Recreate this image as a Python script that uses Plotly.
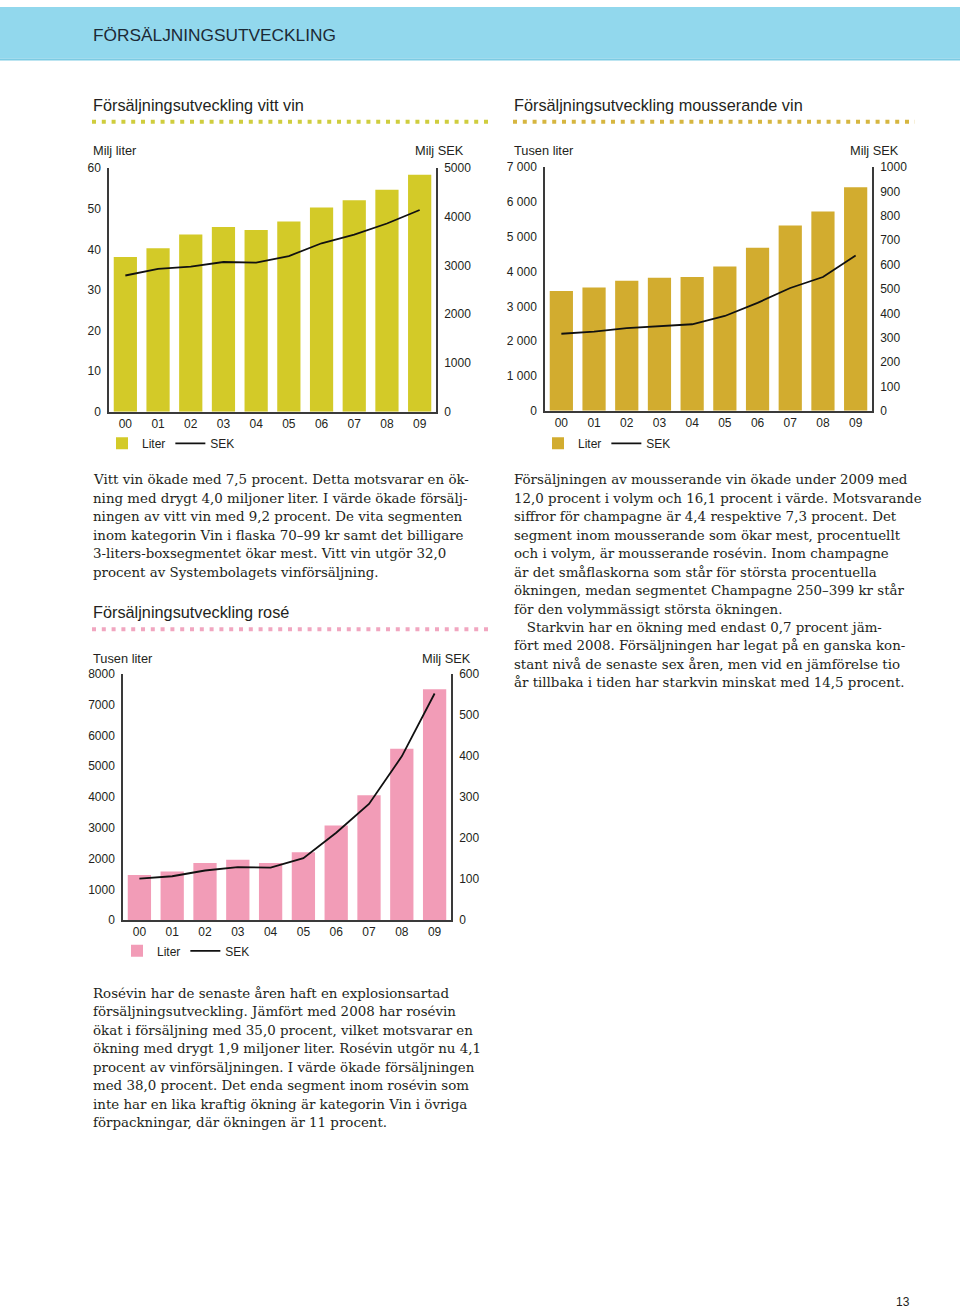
import plotly.graph_objects as go

W, H = 960, 1316

years = ["00", "01", "02", "03", "04", "05", "06", "07", "08", "09"]

# Vitt vin
vitt_liter = [38.1, 40.3, 43.7, 45.5, 44.8, 46.9, 50.3, 52.1, 54.7, 58.4]   # Milj liter
vitt_sek = [2797, 2932, 2980, 3074, 3061, 3196, 3459, 3635, 3865, 4142]     # Milj SEK

# Mousserande vin
mouss_liter = [3444, 3539, 3738, 3823, 3842, 4146, 4687, 5323, 5731, 6423]  # Tusen liter
mouss_sek = [316, 325, 339, 348, 355, 389, 443, 504, 549, 638]              # Milj SEK

# Rosé
rose_liter = [1471, 1579, 1858, 1966, 1858, 2202, 3072, 4060, 5564, 7497]   # Tusen liter
rose_sek = [101, 107, 121, 129, 128, 151, 213, 283, 399, 552]               # Milj SEK

vitt_left_ticks = [0, 10, 20, 30, 40, 50, 60]
vitt_right_ticks = [0, 1000, 2000, 3000, 4000, 5000]
mouss_left_ticks = [0, 1000, 2000, 3000, 4000, 5000, 6000, 7000]
mouss_left_text = ["0", "1 000", "2 000", "3 000", "4 000", "5 000", "6 000", "7 000"]
mouss_right_ticks = [0, 100, 200, 300, 400, 500, 600, 700, 800, 900, 1000]
rose_left_ticks = [0, 1000, 2000, 3000, 4000, 5000, 6000, 7000, 8000]
rose_right_ticks = [0, 100, 200, 300, 400, 500, 600]

C_VITT = "#d3ca28"
C_MOUSS = "#d2ac2f"
C_ROSE = "#f29cb7"
C_TEXT = "#231f20"
AX = "#3a3a3a"
SANS = "Liberation Sans, Arial, sans-serif"
SERIF = "DejaVu Serif, serif"


def xp(px):
    return px / W


def yp(py):
    return 1 - py / H


fig = go.Figure()

charts = [
    dict(liter=vitt_liter, sek=vitt_sek, color=C_VITT, xd=(109, 436), yd=(163, 409),
         yr=(0, 60), y2r=(0, 5000), lt=vitt_left_ticks, ltt=[str(v) for v in vitt_left_ticks],
         rt=vitt_right_ticks, legend_xy=(102, 441)),
    dict(liter=mouss_liter, sek=mouss_sek, color=C_MOUSS, xd=(545, 872), yd=(162, 408),
         yr=(0, 7000), y2r=(0, 1000), lt=mouss_left_ticks, ltt=mouss_left_text,
         rt=mouss_right_ticks, legend_xy=(538, 441)),
    dict(liter=rose_liter, sek=rose_sek, color=C_ROSE, xd=(123, 451), yd=(674, 923),
         yr=(0, 8000), y2r=(0, 600), lt=rose_left_ticks, ltt=[str(v) for v in rose_left_ticks],
         rt=rose_right_ticks, legend_xy=(117, 954)),
]

layout_axes = {}
for i, c in enumerate(charts):
    xa = "x" if i == 0 else f"x{i+1}"
    ya1 = f"y{2*i+1}" if i > 0 else "y"
    ya2 = f"y{2*i+2}"
    leg = "legend" if i == 0 else f"legend{i+1}"
    fig.add_trace(go.Bar(x=years, y=c["liter"], name="Liter", marker_color=c["color"],
                         marker_line_width=0, xaxis=xa, yaxis=ya1, legend=leg))
    fig.add_trace(go.Scatter(x=years, y=c["sek"], name="SEK", mode="lines",
                             line=dict(color="#111111", width=1.8), xaxis=xa, yaxis=ya2,
                             legend=leg))
    xkey = "xaxis" if i == 0 else f"xaxis{i+1}"
    y1key = "yaxis" if i == 0 else f"yaxis{2*i+1}"
    y2key = f"yaxis{2*i+2}"
    layout_axes[xkey] = dict(domain=[xp(c["xd"][0]), xp(c["xd"][1])], anchor=ya1,
                             showline=True, linecolor=AX, linewidth=1.5, ticks="",
                             showgrid=False, zeroline=False, range=[-0.5, 9.5],
                             tickfont=dict(family=SANS, size=12, color=C_TEXT))
    layout_axes[y1key] = dict(domain=[yp(c["yd"][1]), yp(c["yd"][0])], anchor=xa,
                              range=list(c["yr"]), showline=True, linecolor=AX, linewidth=1.5,
                              showgrid=False, zeroline=False, ticks="",
                              tickvals=c["lt"], ticktext=c["ltt"], ticklabelstandoff=4,
                              tickfont=dict(family=SANS, size=12, color=C_TEXT))
    layout_axes[y2key] = dict(overlaying=ya1, side="right", anchor=xa,
                              range=list(c["y2r"]), showline=True, linecolor=AX, linewidth=1.5,
                              showgrid=False, zeroline=False, ticks="",
                              tickvals=c["rt"], ticklabelstandoff=4,
                              tickfont=dict(family=SANS, size=12, color=C_TEXT))
    layout_axes[leg] = dict(orientation="h", x=xp(c["legend_xy"][0]), y=yp(c["legend_xy"][1]),
                            xanchor="left", yanchor="middle", bgcolor="rgba(0,0,0,0)",
                            font=dict(family=SANS, size=12, color=C_TEXT),
                            itemclick=False, itemdoubleclick=False)

shapes = []
annotations = []

# header band
shapes.append(dict(type="rect", xref="paper", yref="paper", x0=0, x1=1, y0=yp(52), y1=1,
                   fillcolor="#92d8ed", line_width=0, layer="below"))
shapes.append(dict(type="line", xref="paper", yref="paper", x0=0, x1=1, y0=yp(53), y1=yp(53),
                   line=dict(color="#7ccbe3", width=2)))
annotations.append(dict(text="FÖRSÄLJNINGSUTVECKLING", x=xp(91), y=yp(28), xref="paper", yref="paper",
                        xanchor="left", yanchor="middle", showarrow=False,
                        font=dict(family=SANS, size=17.3, color="#1c2a36")))

# section titles with dotted rules
sections = [
    ("Försäljningsutveckling vitt vin", 91, 99, 116, 493, "#cfcd3e"),
    ("Försäljningsutveckling mousserande vin", 512, 99, 116, 915, "#d6b640"),
    ("Försäljningsutveckling rosé", 91, 612, 629, 493, "#f1a6c0"),
]
for title, x0, ty, dy, x1, col in sections:
    annotations.append(dict(text=title, x=xp(x0), y=yp(ty), xref="paper", yref="paper",
                            xanchor="left", yanchor="middle", showarrow=False,
                            font=dict(family=SANS, size=16.3, color=C_TEXT)))
    shapes.append(dict(type="line", xref="paper", yref="paper", x0=xp(x0 + 1), x1=xp(x1),
                       y0=yp(dy), y1=yp(dy), line=dict(color=col, width=4, dash="4px,5.8px")))

# axis unit labels
units = [
    ("Milj liter", 91, 145, "left"), ("Milj SEK", 466, 145, "right"),
    ("Tusen liter", 512, 145, "left"), ("Milj SEK", 901, 145, "right"),
    ("Tusen liter", 91, 658, "left"), ("Milj SEK", 473, 658, "right"),
]
for t, x, y, anc in units:
    annotations.append(dict(text=t, x=xp(x), y=yp(y), xref="paper", yref="paper",
                            xanchor=anc, yanchor="middle", showarrow=False,
                            font=dict(family=SANS, size=12.8, color=C_TEXT)))

# body text
para1 = [
    "Vitt vin ökade med 7,5 procent. Detta motsvarar en ök-",
    "ning med drygt 4,0 miljoner liter. I värde ökade försälj-",
    "ningen av vitt vin med 9,2 procent. De vita segmenten",
    "inom kategorin Vin i flaska 70–99 kr samt det billigare",
    "3-liters-boxsegmentet ökar mest. Vitt vin utgör 32,0",
    "procent av Systembolagets vinförsäljning.",
]
para2 = [
    "Försäljningen av mousserande vin ökade under 2009 med",
    "12,0 procent i volym och 16,1 procent i värde. Motsvarande",
    "siffror för champagne är 4,4 respektive 7,3 procent. Det",
    "segment inom mousserande som ökar mest, procentuellt",
    "och i volym, är mousserande rosévin. Inom champagne",
    "är det småflaskorna som står för största procentuella",
    "ökningen, medan segmentet Champagne 250–399 kr står",
    "för den volymmässigt största ökningen.",
    "   Starkvin har en ökning med endast 0,7 procent jäm-",
    "fört med 2008. Försäljningen har legat på en ganska kon-",
    "stant nivå de senaste sex åren, men vid en jämförelse tio",
    "år tillbaka i tiden har starkvin minskat med 14,5 procent.",
]
para3 = [
    "Rosévin har de senaste åren haft en explosionsartad",
    "försäljningsutveckling. Jämfört med 2008 har rosévin",
    "ökat i försäljning med 35,0 procent, vilket motsvarar en",
    "ökning med drygt 1,9 miljoner liter. Rosévin utgör nu 4,1",
    "procent av vinförsäljningen. I värde ökade försäljningen",
    "med 38,0 procent. Det enda segment inom rosévin som",
    "inte har en lika kraftig ökning är kategorin Vin i övriga",
    "förpackningar, där ökningen är 11 procent.",
]
for lines, x0, y0 in [(para1, 91, 478), (para2, 512, 478), (para3, 91, 997)]:
    for k, line in enumerate(lines):
        annotations.append(dict(text=line, x=xp(x0), y=yp(y0 + k * 18.65), xref="paper", yref="paper",
                                xanchor="left", yanchor="middle", showarrow=False,
                                font=dict(family=SERIF, size=13.4, color=C_TEXT)))

annotations.append(dict(text="13", x=xp(912), y=yp(1309), xref="paper", yref="paper",
                        xanchor="right", yanchor="middle", showarrow=False,
                        font=dict(family=SANS, size=12, color=C_TEXT)))

fig.update_layout(width=W, height=H, margin=dict(l=0, r=0, t=0, b=0),
                  paper_bgcolor="white", plot_bgcolor="rgba(0,0,0,0)",
                  bargap=0.29, showlegend=True, shapes=shapes, annotations=annotations,
                  **layout_axes)

fig.write_html("out.html", config={"displayModeBar": False},
               post_script="document.documentElement.style.margin='0';"
                           "document.body.style.margin='0';document.body.style.padding='0';"
                           "document.documentElement.style.overflow='hidden';"
                           "var d=document.getElementById('{plot_id}');"
                           "d.style.position='fixed';d.style.top='0';d.style.left='0';")
